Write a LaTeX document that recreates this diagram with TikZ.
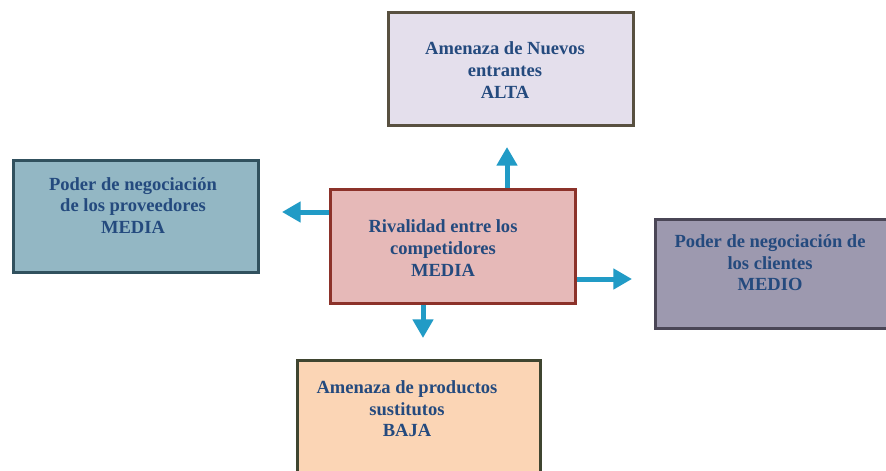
\documentclass[tikz,border=0pt]{standalone}
\usepackage{fontspec}
\setmainfont{Liberation Serif}
\usetikzlibrary{arrows.meta}
\definecolor{txtblue}{HTML}{244A7E}
\definecolor{arrblue}{HTML}{219BC6}
\definecolor{topfill}{HTML}{E4DFEC}\definecolor{topdraw}{HTML}{585040}
\definecolor{leftfill}{HTML}{93B7C4}\definecolor{leftdraw}{HTML}{31515E}
\definecolor{cenfill}{HTML}{E6B9B8}\definecolor{cendraw}{HTML}{8C322A}
\definecolor{rightfill}{HTML}{9D99AF}\definecolor{rightdraw}{HTML}{4A4656}
\definecolor{botfill}{HTML}{FBD5B5}\definecolor{botdraw}{HTML}{3F4530}
\tikzset{
  box/.style={draw, line width=2.25pt, inner sep=0pt, minimum width=183.75pt},
  lbl/.style={text=txtblue, font=\fontsize{13.9}{16.2}\selectfont\bfseries, align=center, inner sep=0pt},
  arr/.style={draw=arrblue, line width=3.75pt, -{Triangle[length=14pt,width=15pt]}}
}
\begin{document}
\begin{tikzpicture}[x=0.75pt,y=-0.75pt]
\clip (0,0) rectangle (886,471);
\fill[white] (0,0) rectangle (886,471);
% boxes
\node[box, fill=topfill, draw=topdraw, minimum height=84.75pt] (top) at (510.5,68.5) {};
\node[box, fill=leftfill, draw=leftdraw, minimum height=84pt] (left) at (135.5,216) {};
\node[box, fill=cenfill, draw=cendraw, minimum height=85.5pt] (cen) at (452.5,246) {};
\node[box, fill=rightfill, draw=rightdraw, minimum height=81.75pt] (right) at (777.5,273.5) {};
\node[box, fill=botfill, draw=botdraw, minimum width=182.25pt, minimum height=90pt] (bot) at (418.5,420) {};
% labels
\node[lbl] (toplbl) at (505,70) {Amenaza de Nuevos\\entrantes\\ALTA};
\node[lbl] (leftlbl) at (133,205.5) {Poder de negociación\\de los proveedores\\MEDIA};
\node[lbl] (cenlbl) at (443,248) {Rivalidad entre los\\competidores\\MEDIA};
\node[lbl] (rightlbl) at (770,263) {Poder de negociación de\\los clientes\\MEDIO};
\node[lbl] (botlbl) at (407,409) {Amenaza de productos\\sustitutos\\BAJA};
% arrow ends
\coordinate (upend) at (507,147);
\coordinate (leftend) at (282,212);
\coordinate (rightend) at (632,279);
\coordinate (downend) at (423,338);
\draw[arr] (cen.north -| upend) -- (upend);
\draw[arr] (cen.west |- leftend) -- (leftend);
\draw[arr] (cen.east |- rightend) -- (rightend);
\draw[arr] (cen.south -| downend) -- (downend);
\end{tikzpicture}
\end{document}
